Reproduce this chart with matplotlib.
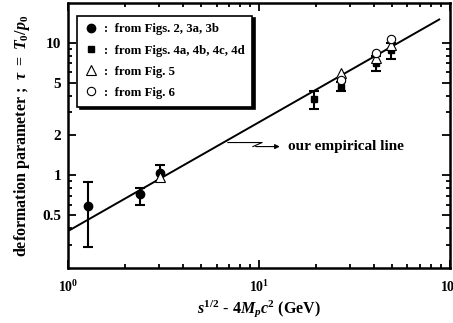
import matplotlib
matplotlib.use("Agg")
import matplotlib.pyplot as plt
from matplotlib.lines import Line2D
from matplotlib.ticker import FixedLocator, FixedFormatter, NullFormatter

plt.rcParams["font.family"] = ["Liberation Serif", "DejaVu Serif"]
plt.rcParams["font.weight"] = "bold"
plt.rcParams["mathtext.fontset"] = "custom"
plt.rcParams["mathtext.rm"] = "Liberation Serif:bold"
plt.rcParams["mathtext.it"] = "Liberation Serif:italic:bold"
plt.rcParams["mathtext.bf"] = "Liberation Serif:bold"

# Figs. 2, 3a, 3b (filled circles)
x_fig23 = [1.27, 2.38, 3.03]
y_fig23 = [0.59, 0.72, 1.05]
lo_fig23 = [0.29, 0.60, 0.90]
hi_fig23 = [0.89, 0.81, 1.19]

# Figs. 4a-4d (filled squares)
x_fig4 = [19.4, 26.9, 40.9, 49.0]
y_fig4 = [3.79, 4.67, 7.08, 8.86]
lo_fig4 = [3.19, 4.36, 6.16, 7.58]
hi_fig4 = [4.36, 5.05, 8.0, 10.0]

# Fig. 5 (open triangles)
x_fig5 = [3.03, 26.9, 40.9, 49.0]
y_fig5 = [0.97, 5.95, 7.7, 9.66]

# Fig. 6 (open circles)
x_fig6 = [26.9, 40.9, 49.0]
y_fig6 = [5.27, 8.4, 10.7]

# empirical line end points
line_x = [1.0, 88.0]
line_y = [0.38, 15.0]

labels = [":  from Figs. 2, 3a, 3b", ":  from Figs. 4a, 4b, 4c, 4d",
          ":  from Fig. 5", ":  from Fig. 6"]

fig = plt.figure(figsize=(4.53, 3.23), dpi=100)
ax = fig.add_axes([0.150, 0.170, 0.843, 0.821])
ax.set_xscale("log")
ax.set_yscale("log")

ax.plot(line_x, line_y, color="k", lw=1.4, zorder=2)

err23 = [[y - l for y, l in zip(y_fig23, lo_fig23)], [h - y for y, h in zip(y_fig23, hi_fig23)]]
err4 = [[y - l for y, l in zip(y_fig4, lo_fig4)], [h - y for y, h in zip(y_fig4, hi_fig4)]]

ax.errorbar(x_fig23, y_fig23, yerr=err23, fmt="o", color="k", ms=6, capsize=3.5,
            elinewidth=1.5, capthick=1.5, zorder=3)
ax.errorbar(x_fig4, y_fig4, yerr=err4, fmt="s", color="k", ms=4.5, capsize=3.5,
            elinewidth=1.5, capthick=1.5, zorder=3)
ax.plot(x_fig5, y_fig5, "^", mfc="white", mec="k", ms=6.5, mew=0.8, ls="none", zorder=4)
ax.plot(x_fig6, y_fig6, "o", mfc="white", mec="k", ms=6, mew=0.8, ls="none", zorder=4)

ax.set_xlim(1, 100)
ax.set_ylim(0.2, 20)

ax.xaxis.set_major_locator(FixedLocator([1, 10, 100]))
ax.xaxis.set_major_formatter(FixedFormatter([r"$\mathbf{10^{0}}$", r"$\mathbf{10^{1}}$", r"$\mathbf{10^{2}}$"]))
ax.xaxis.set_minor_locator(FixedLocator([k * d for d in (1, 10) for k in range(2, 10)]))
ax.xaxis.set_minor_formatter(NullFormatter())

ax.yaxis.set_major_locator(FixedLocator([0.5, 1, 2, 5, 10]))
ax.yaxis.set_major_formatter(FixedFormatter(["0.5", "1", "2", "5", "10"]))
ax.yaxis.set_minor_locator(FixedLocator([0.3, 0.4, 0.6, 0.7, 0.8, 0.9, 3, 4, 6, 7, 8, 9]))
ax.yaxis.set_minor_formatter(NullFormatter())

ax.tick_params(which="both", direction="in", top=True, right=True, width=1.3)
ax.tick_params(which="major", length=6)
ax.tick_params(which="minor", length=3)
ax.tick_params(axis="y", which="major", labelsize=11, pad=5)
ax.tick_params(axis="x", which="major", labelsize=10, pad=8)
for s in ax.spines.values():
    s.set_linewidth(1.8)

ax.set_xlabel(r"$s^{1/2}$ - 4$M_pc^2$ (GeV)", fontsize=11.5, fontweight="bold", labelpad=2)
ax.set_ylabel(r"deformation parameter ;  $\tau\ =\ T_0/p_0$", fontsize=11.5, fontweight="bold", labelpad=7)

# annotation for the fitted line
ax.plot([6.88, 10.4, 9.3], [1.77, 1.77, 1.65], color="k", lw=0.8)
ax.annotate("", xy=(13.3, 1.65), xytext=(9.3, 1.65),
            arrowprops=dict(arrowstyle="-|>", color="k", lw=0.8, mutation_scale=7))
ax.text(14.2, 1.65, "our empirical line", fontsize=11, fontweight="bold", va="center", ha="left")

handles = [
    Line2D([], [], marker="o", color="k", ls="none", ms=6),
    Line2D([], [], marker="s", color="k", ls="none", ms=4.5),
    Line2D([], [], marker="^", mfc="white", mec="k", ls="none", ms=6.5, mew=0.8),
    Line2D([], [], marker="o", mfc="white", mec="k", ls="none", ms=6, mew=0.8),
]
leg = ax.legend(handles, labels, loc="upper left", bbox_to_anchor=(0.024, 0.952), borderaxespad=0,
                frameon=True, fancybox=False, shadow={"color": "k", "alpha": 1},
                edgecolor="k", handlelength=1.0, handletextpad=0.5,
                labelspacing=0.72, borderpad=0.6, prop={"weight": "bold", "size": 9.2})
leg.get_frame().set_linewidth(1.2)
leg.get_frame().set_alpha(1)

fig.savefig("out.png", dpi=100)
